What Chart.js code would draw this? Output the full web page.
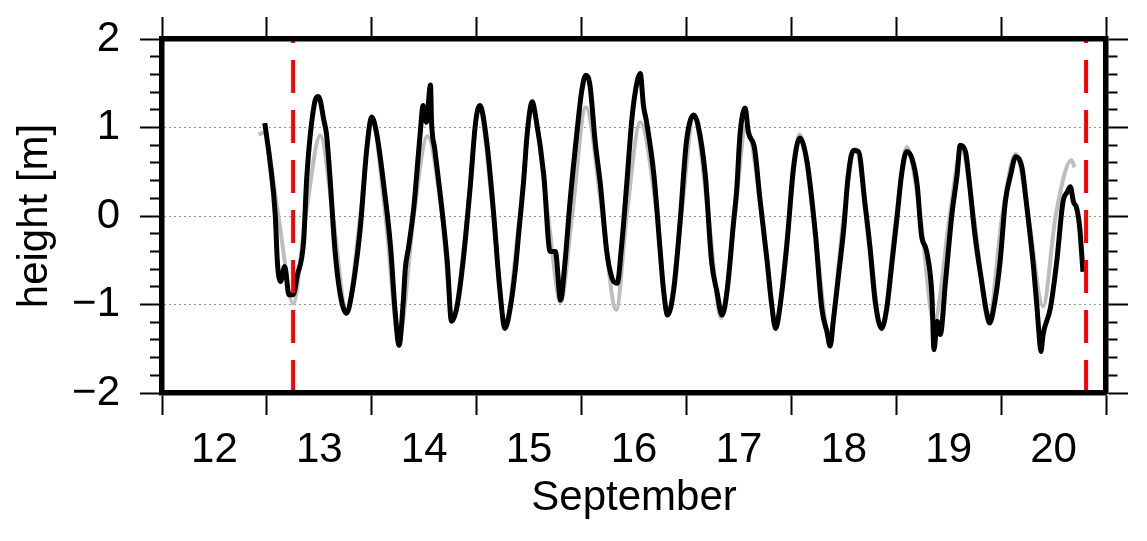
<!DOCTYPE html>
<html lang="en">
<head>
<meta charset="UTF-8">
<title>Water level, September</title>
<script src="https://cdn.jsdelivr.net/npm/chart.js"></script>
<style>
  html, body { margin: 0; padding: 0; background: #fff; }
  #chart { display: block; }
</style>
</head>
<body>
<canvas id="chart" width="1147" height="541"></canvas>
<script>
// observed height (black), time in decimal days of September
const obsTime = [
  12.98, 13.03, 13.08, 13.10, 13.13, 13.17, 13.21, 13.25, 13.29, 13.35, 13.38, 13.45, 13.49, 13.51,
  13.54, 13.57, 13.60, 13.65, 13.70, 13.76, 13.79, 13.89, 13.95, 14.00, 14.05, 14.11, 14.18, 14.22,
  14.26, 14.30, 14.32, 14.35, 14.40, 14.46, 14.49, 14.52, 14.56, 14.57, 14.60, 14.65, 14.72, 14.76,
  14.81, 14.87, 14.94, 14.99, 15.03, 15.10, 15.16, 15.22, 15.27, 15.32, 15.37, 15.40, 15.45, 15.48,
  15.53, 15.56, 15.64, 15.70, 15.75, 15.80, 15.84, 15.89, 15.96, 16.00, 16.04, 16.08, 16.13, 16.18,
  16.24, 16.29, 16.34, 16.38, 16.43, 16.48, 16.53, 16.56, 16.59, 16.62, 16.69, 16.75, 16.78, 16.82,
  16.88, 16.94, 17.00, 17.07, 17.11, 17.18, 17.24, 17.29, 17.34, 17.39, 17.45, 17.48, 17.51, 17.56,
  17.59, 17.65, 17.70, 17.77, 17.81, 17.85, 17.89, 17.96, 18.02, 18.08, 18.15, 18.23, 18.29, 18.34,
  18.37, 18.40, 18.45, 18.50, 18.54, 18.59, 18.64, 18.70, 18.75, 18.80, 18.86, 18.91, 18.96, 19.01,
  19.05, 19.10, 19.15, 19.20, 19.24, 19.29, 19.34, 19.36, 19.39, 19.42, 19.47, 19.53, 19.58, 19.61,
  19.66, 19.70, 19.75, 19.82, 19.86, 19.89, 19.93, 19.99, 20.04, 20.09, 20.14, 20.20, 20.24, 20.28,
  20.31, 20.34, 20.36, 20.38, 20.40, 20.47, 20.53, 20.59, 20.63, 20.66, 20.69, 20.72, 20.75, 20.78
];
const obsHeight = [
  1.05, 0.61, 0.01, -0.52, -0.74, -0.57, -0.89, -0.89, -0.67, -0.29, 0.43, 1.25, 1.35, 1.30,
  1.10, 0.91, 0.46, -0.40, -0.89, -1.10, -1.00, -0.14, 0.73, 1.12, 0.91, 0.39, -0.36, -1.04,
  -1.46, -0.97, -0.59, -0.36, 0.09, 0.91, 1.25, 1.06, 1.48, 1.06, 0.76, 0.27, -0.52, -1.19,
  -1.04, -0.52, 0.35, 1.06, 1.25, 0.80, 0.05, -0.82, -1.27, -1.04, -0.59, -0.21, 0.43, 0.91,
  1.29, 1.14, 0.46, -0.40, -0.40, -0.95, -0.55, 0.16, 0.99, 1.40, 1.59, 1.48, 0.84, 0.35,
  -0.40, -0.70, -0.76, -0.36, 0.35, 1.10, 1.52, 1.61, 1.25, 1.06, 0.46, -0.40, -0.82, -1.12,
  -0.82, -0.06, 0.84, 1.14, 1.03, 0.46, -0.52, -0.85, -1.12, -0.82, -0.06, 0.31, 0.91, 1.22,
  0.95, 0.76, 0.20, -0.52, -0.97, -1.27, -1.04, -0.29, 0.54, 0.88, 0.61, -0.21, -1.04, -1.31,
  -1.47, -1.19, -0.67, -0.14, 0.43, 0.74, 0.73, 0.16, -0.36, -0.97, -1.27, -1.04, -0.52, 0.01,
  0.46, 0.73, 0.65, 0.35, -0.21, -0.40, -0.89, -1.51, -1.19, -1.34, -0.74, 0.01, 0.46, 0.80,
  0.73, 0.35, -0.21, -0.78, -1.08, -1.21, -1.04, -0.52, 0.16, 0.46, 0.67, 0.54, 0.16, -0.25,
  -0.59, -1.00, -1.31, -1.53, -1.34, -1.04, -0.52, 0.16, 0.27, 0.33, 0.16, 0.09, -0.14, -0.63
];

// predicted tide (grey)
const predTime = [
  12.92, 12.97, 13.11, 13.25, 13.37, 13.51, 13.63, 13.76, 13.89, 14.00, 14.13, 14.26, 14.40, 14.53,
  14.67, 14.77, 14.91, 15.02, 15.16, 15.27, 15.41, 15.53, 15.68, 15.80, 15.91, 16.04, 16.20, 16.33,
  16.43, 16.56, 16.72, 16.82, 16.95, 17.07, 17.21, 17.33, 17.46, 17.57, 17.72, 17.85, 17.98, 18.08,
  18.21, 18.36, 18.50, 18.61, 18.72, 18.86, 19.00, 19.10, 19.23, 19.36, 19.51, 19.62, 19.74, 19.88,
  20.01, 20.14, 20.26, 20.40, 20.52, 20.67, 20.70
];
const predHeight = [
  0.92, 0.94, 0.00, -0.99, 0.00, 0.91, 0.00, -1.08, 0.00, 1.10, 0.00, -1.38, 0.00, 0.90,
  0.00, -1.15, 0.00, 1.22, 0.00, -1.22, 0.00, 1.20, 0.00, -0.97, 0.00, 1.23, 0.00, -1.06,
  0.00, 1.06, 0.00, -1.10, 0.00, 1.12, 0.00, -1.15, 0.00, 1.02, 0.00, -1.22, 0.00, 0.92,
  0.00, -1.32, 0.00, 0.76, 0.00, -1.25, 0.00, 0.78, 0.00, -1.20, 0.00, 0.76, 0.00, -1.18,
  0.00, 0.70, 0.00, -1.02, 0.00, 0.63, 0.55
];

// red dashed markers (start / end of the analysed window)
const markerTime = [13.25, 20.81];

// axes
const dayTicks = [12, 13, 14, 15, 16, 17, 18, 19, 20, 21];
const dayLabels = ['12', '13', '14', '15', '16', '17', '18', '19', '20'];
const heightMin = -2;
const heightMax = 2;
const heightMinorStep = 0.2;

const FONT = "'Liberation Sans', Arial, Helvetica, sans-serif";

function isWhole(v) {
  return Math.abs(v - Math.round(v)) < 1e-6;
}
function heightTickList() {
  const out = [];
  const n = Math.round((heightMax - heightMin) / heightMinorStep);
  for (let i = 0; i <= n; i++) {
    out.push({ value: Math.round((heightMin + i * heightMinorStep) * 10) / 10 });
  }
  return out;
}
function toPoints(t, h) {
  return t.map((x, i) => ({ x: x, y: h[i] }));
}
// fixed box sizes so the plot frame lands where the original one is
function fixWidth(w) {
  return scale => { scale.width = w; scale.paddingTop = 0; scale.paddingBottom = 0; };
}
function fixHeight(h) {
  return scale => { scale.height = h; scale.paddingLeft = 0; scale.paddingRight = 0; };
}

const markerSets = markerTime.map(t => ({
  data: [{ x: t, y: heightMin }, { x: t, y: heightMax }],
  borderColor: '#ff0000',
  borderWidth: 4,
  borderDash: [33, 17],
  pointRadius: 0
}));

new Chart(document.getElementById('chart'), {
  type: 'line',
  data: {
    datasets: [
      ...markerSets,
      {
        label: 'observed',
        data: toPoints(obsTime, obsHeight),
        borderColor: '#000000',
        borderWidth: 5,
        borderJoinStyle: 'round',
        pointRadius: 0,
        cubicInterpolationMode: 'monotone'
      },
      {
        label: 'predicted',
        data: toPoints(predTime, predHeight),
        borderColor: '#bdbdbd',
        borderWidth: 4,
        pointRadius: 0,
        cubicInterpolationMode: 'monotone'
      }
    ]
  },
  options: {
    responsive: false,
    devicePixelRatio: 1,
    animation: false,
    layout: { padding: 0 },
    plugins: {
      legend: { display: false },
      tooltip: { enabled: false }
    },
    scales: {
      x: {
        type: 'linear',
        position: 'bottom',
        min: dayTicks[0],
        max: dayTicks[dayTicks.length - 1],
        afterBuildTicks(scale) {
          const t = [];
          dayTicks.forEach((d, i) => {
            t.push({ value: d });
            if (i < dayLabels.length) t.push({ value: d + 0.5 });
          });
          scale.ticks = t;
        },
        afterFit: fixHeight(148),
        grid: {
          drawOnChartArea: false,
          drawTicks: true,
          tickLength: 22,
          tickWidth: 2,
          tickColor: ctx => (ctx.tick && isWhole(ctx.tick.value)) ? '#000' : 'rgba(0,0,0,0)'
        },
        border: { display: true, color: '#000', width: 5.5, z: 1 },
        ticks: {
          autoSkip: false,
          maxRotation: 0,
          padding: 10,
          color: '#000',
          font: { family: FONT, size: 42 },
          callback(value) {
            if (isWhole(value)) return '';
            return dayLabels[dayTicks.indexOf(Math.floor(value))];
          }
        },
        title: {
          display: true,
          text: 'September',
          color: '#000',
          font: { family: FONT, size: 42 },
          padding: { top: 0, bottom: 17 }
        }
      },
      x2: {
        type: 'linear',
        position: 'top',
        min: dayTicks[0],
        max: dayTicks[dayTicks.length - 1],
        afterBuildTicks(scale) {
          scale.ticks = dayTicks.map(d => ({ value: d }));
        },
        afterFit: fixHeight(39),
        grid: {
          drawOnChartArea: false,
          tickLength: 22,
          tickWidth: 2,
          tickColor: '#000'
        },
        border: { display: true, color: '#000', width: 5.5, z: 1 },
        ticks: { autoSkip: false, padding: 0, callback: () => '' }
      },
      y: {
        type: 'linear',
        position: 'left',
        min: heightMin,
        max: heightMax,
        afterBuildTicks(scale) { scale.ticks = heightTickList(); },
        afterFit: fixWidth(162),
        grid: {
          drawOnChartArea: true,
          lineWidth: 1,
          color: ctx => (ctx.tick && isWhole(ctx.tick.value) && Math.abs(ctx.tick.value) < heightMax) ? '#333' : 'rgba(0,0,0,0)',
          tickLength: 22,
          tickWidth: 2,
          tickColor: '#000',
          tickBorderDash: ctx => (ctx.tick && isWhole(ctx.tick.value)) ? [] : [0, 10, 100]
        },
        border: { display: true, color: '#000', width: 5.5, dash: [1, 4], z: 1 },
        ticks: {
          autoSkip: false,
          padding: 20,
          color: '#000',
          font: { family: FONT, size: 42 },
          callback(value) {
            if (!isWhole(value)) return '';
            const r = Math.round(value);
            return r < 0 ? '\u2212' + (-r) : String(r);
          }
        },
        title: {
          display: true,
          text: 'height [m]',
          color: '#000',
          font: { family: FONT, size: 42 },
          padding: { top: 10, bottom: 0 }
        }
      },
      y2: {
        type: 'linear',
        position: 'right',
        min: heightMin,
        max: heightMax,
        afterBuildTicks(scale) { scale.ticks = heightTickList(); },
        afterFit: fixWidth(41),
        grid: {
          drawOnChartArea: false,
          tickLength: 22,
          tickWidth: 2,
          tickColor: '#000',
          tickBorderDash: ctx => (ctx.tick && isWhole(ctx.tick.value)) ? [] : [9, 100]
        },
        border: { display: true, color: '#000', width: 5.5, z: 1 },
        ticks: { autoSkip: false, padding: 0, callback: () => '' }
      }
    }
  }
});
</script>
</body>
</html>
